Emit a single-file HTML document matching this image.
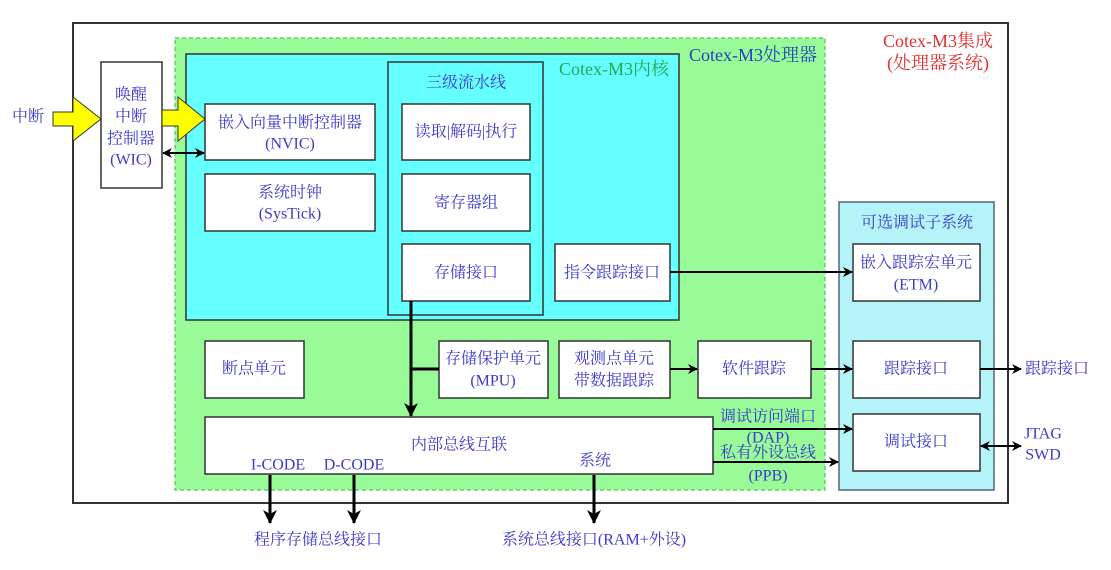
<!DOCTYPE html>
<html><head><meta charset="utf-8"><style>
html,body{margin:0;padding:0;background:#fff;}
svg text{font-family:"Liberation Serif","Noto Serif CJK SC","Noto Sans CJK SC",serif;font-size:16px;fill:#3a3acc;text-anchor:middle;dominant-baseline:central;}
svg text.t{font-size:18px;}
</style></head><body>
<svg width="1111" height="565" viewBox="0 0 1111 565" xmlns="http://www.w3.org/2000/svg">
<defs>
<marker id="ah" markerWidth="10" markerHeight="10" refX="9" refY="5" orient="auto" markerUnits="userSpaceOnUse"><path d="M0,0 L10,5 L0,10 L3,5 z" fill="#000"/></marker>
<marker id="as" markerWidth="10" markerHeight="10" refX="1" refY="5" orient="auto" markerUnits="userSpaceOnUse"><path d="M10,0 L0,5 L10,10 L7,5 z" fill="#000"/></marker>
<marker id="ab" markerWidth="14" markerHeight="14" refX="13" refY="7" orient="auto" markerUnits="userSpaceOnUse"><path d="M0,0 L14,7 L0,14 L4,7 z" fill="#000"/></marker>
</defs>
<rect x="73" y="23" width="935" height="480" fill="#fff" stroke="#333" stroke-width="2"/>
<rect x="175" y="38" width="650" height="452" fill="#98fb98" stroke="#6c6" stroke-width="1.5" stroke-dasharray="4,3"/>
<rect x="186" y="54" width="493" height="266" fill="#66ffff" stroke="#333" stroke-width="1.5"/>
<rect x="388" y="62" width="155" height="253" fill="#66ffff" stroke="#333" stroke-width="1.5"/>
<rect x="839" y="202" width="155" height="288" fill="#b4f4f8" stroke="#567" stroke-width="1.5"/>
<g fill="#fff" stroke="#333" stroke-width="1.5">
<rect x="101" y="62" width="61" height="126"/>
<rect x="205" y="104" width="170" height="56"/>
<rect x="205" y="174" width="170" height="57"/>
<rect x="402" y="104" width="128" height="56"/>
<rect x="402" y="174" width="128" height="57"/>
<rect x="402" y="244" width="128" height="57"/>
<rect x="555" y="244" width="115" height="57"/>
<rect x="853" y="244" width="127" height="57"/>
<rect x="205" y="341" width="99" height="57"/>
<rect x="439" y="341" width="109" height="57"/>
<rect x="559" y="341" width="111" height="57"/>
<rect x="698" y="341" width="113" height="57"/>
<rect x="853" y="341" width="127" height="57"/>
<rect x="853" y="414" width="127" height="57"/>
<rect x="205" y="417" width="508" height="57"/>
</g>
<path d="M53,112 L73,112 L73,97 L101,119 L73,141 L73,126 L53,126 z" fill="#ffff00" stroke="#333" stroke-width="1"/>
<path d="M162,110 L178,110 L178,97 L205,119 L178,141 L178,126 L162,126 z" fill="#ffff00" stroke="#333" stroke-width="1"/>
<g stroke="#000" stroke-width="2" fill="none">
<line x1="163" y1="153" x2="204" y2="153" marker-end="url(#ah)" marker-start="url(#as)"/>
<line x1="670" y1="272" x2="852" y2="272" marker-end="url(#ah)"/>
<line x1="411" y1="301" x2="411" y2="416" stroke-width="3" marker-end="url(#ab)"/>
<line x1="411" y1="369" x2="439" y2="369" stroke-width="3"/>
<line x1="670" y1="369" x2="697" y2="369" marker-end="url(#ah)"/>
<line x1="811" y1="369" x2="852" y2="369" marker-end="url(#ah)"/>
<line x1="980" y1="369" x2="1021" y2="369" marker-end="url(#ah)"/>
<line x1="981" y1="446" x2="1021" y2="446" marker-end="url(#ah)" marker-start="url(#as)"/>
<line x1="713" y1="429" x2="852" y2="429" marker-end="url(#ah)"/>
<line x1="713" y1="462" x2="838" y2="462" marker-end="url(#ah)"/>
<line x1="270" y1="475" x2="270" y2="523" stroke-width="3" marker-end="url(#ab)"/>
<line x1="354" y1="475" x2="354" y2="523" stroke-width="3" marker-end="url(#ab)"/>
<line x1="594" y1="475" x2="594" y2="523" stroke-width="3" marker-end="url(#ab)"/>
</g>
<text x="28" y="117">中断</text>
<text x="131" y="95">唤醒</text><text x="131" y="117">中断</text><text x="131" y="139">控制器</text><text x="131" y="160">(WIC)</text>
<text x="290" y="123">嵌入向量中断控制器</text><text x="290" y="144">(NVIC)</text>
<text x="290" y="193">系统时钟</text><text x="290" y="214">(SysTick)</text>
<text x="466" y="83">三级流水线</text>
<text x="466" y="132">读取|解码|执行</text>
<text x="466" y="203">寄存器组</text>
<text x="466" y="273">存储接口</text>
<text x="612" y="273">指令跟踪接口</text>
<text class="t" x="614" y="69" style="fill:#22aa55">Cotex-M3内核</text>
<text class="t" x="753" y="55" style="fill:#2244bb">Cotex-M3处理器</text>
<text class="t" x="938" y="41" style="fill:#e03030">Cotex-M3集成</text><text class="t" x="938" y="63" style="fill:#e03030">(处理器系统)</text>
<text x="917" y="223">可选调试子系统</text>
<text x="916" y="263">嵌入跟踪宏单元</text><text x="916" y="285">(ETM)</text>
<text x="254" y="369">断点单元</text>
<text x="493" y="359">存储保护单元</text><text x="493" y="381">(MPU)</text>
<text x="614" y="359">观测点单元</text><text x="614" y="381">带数据跟踪</text>
<text x="754" y="369">软件跟踪</text>
<text x="916" y="369">跟踪接口</text>
<text x="916" y="442">调试接口</text>
<text x="1057" y="369">跟踪接口</text>
<text x="1043" y="434">JTAG</text><text x="1043" y="455">SWD</text>
<text x="459" y="445">内部总线互联</text>
<text x="278" y="465">I-CODE</text><text x="354" y="465">D-CODE</text><text x="595" y="461">系统</text>
<text x="768" y="417">调试访问端口</text><text x="768" y="438">(DAP)</text>
<text x="768" y="453">私有外设总线</text><text x="768" y="476">(PPB)</text>
<text x="318" y="540">程序存储总线接口</text>
<text x="594" y="540">系统总线接口(RAM+外设)</text>
</svg>
</body></html>
